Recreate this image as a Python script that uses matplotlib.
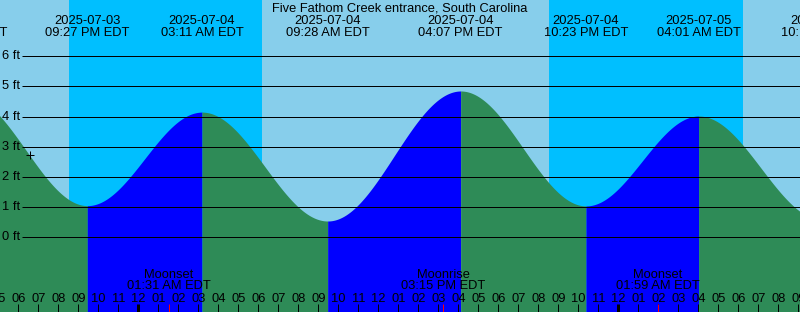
import numpy as np
import matplotlib
matplotlib.use("Agg")
import matplotlib.pyplot as plt

# ---------------- data (hours relative to 2025-07-04 00:00 EDT) ----------------
title = "Five Fathom Creek entrance, South Carolina"
tide_hours = [-8.667, -2.55, 3.183, 9.467, 16.117, 22.383, 28.017, 34.25]
tide_heights = [4.71, 1.05, 4.15, 0.54, 4.85, 1.04, 4.02, 0.57]
tide_dates = ["2025-07-03", "2025-07-03", "2025-07-04", "2025-07-04",
              "2025-07-04", "2025-07-04", "2025-07-05", "2025-07-05"]
tide_times = ["03:20 PM EDT", "09:27 PM EDT", "03:11 AM EDT", "09:28 AM EDT",
              "04:07 PM EDT", "10:23 PM EDT", "04:01 AM EDT", "10:15 AM EDT"]
night_start = [-3.465, 20.535]
night_end = [6.2, 30.22]
moon_hours = [1.517, 15.25, 25.983]
moon_events = ["Moonset", "Moonrise", "Moonset"]
moon_times = ["01:31 AM EDT", "03:15 PM EDT", "01:59 AM EDT"]
level_ticks = [0, 1, 2, 3, 4, 5, 6]
level_labels = ["0 ft", "1 ft", "2 ft", "3 ft", "4 ft", "5 ft", "6 ft"]
hour_ticks = list(range(-7, 34))
now_hour = -5.415
now_height = 2.73
x_range = (-6.915, 33.085)
y_range = (-2.476, 7.866)

# ---------------- style ----------------
DAY = "#87CEEB"
NIGHT = "#00BFFF"
FLOOD = "#0000FF"
EBB = "#2E8B57"
W, H = 800, 312
FONT = dict(family=["Liberation Sans", "DejaVu Sans"], size=9.3, color="black")
px = 0.72  # one pixel in points

fig = plt.figure(figsize=(W / 100, H / 100), dpi=100)
ax = fig.add_axes([0, 0, 1, 1])
ax.set_xlim(*x_range)
ax.set_ylim(*y_range)
ax.set_facecolor(DAY)
ax.set_xticks([])
ax.set_yticks([])
for s in ax.spines.values():
    s.set_visible(False)

def yf(pix):
    return 1 - pix / H

xt = ax.get_xaxis_transform()   # x data, y axes fraction
yt = ax.get_yaxis_transform()   # x axes fraction, y data

# night bands
for a, b in zip(night_start, night_end):
    ax.axvspan(a, b, color=NIGHT, lw=0, zorder=0)

# tide curve, filled per segment (rising = flood blue, falling = ebb green)
for i in range(len(tide_hours) - 1):
    t0, t1 = tide_hours[i], tide_hours[i + 1]
    h0, h1 = tide_heights[i], tide_heights[i + 1]
    t = np.linspace(t0, t1, 200)
    f = (t - t0) / (t1 - t0)
    h = h0 + (h1 - h0) * (1 - np.cos(np.pi * f)) / 2
    ax.fill_between(t, h, y_range[0], color=FLOOD if h1 > h0 else EBB,
                    lw=0, zorder=1)

# level lines and labels
ax.hlines(level_ticks, 21.7 / W, 1, transform=yt, color="black", lw=px, zorder=2)
for lv, lab in zip(level_ticks, level_labels):
    ax.text(2 / W, lv, lab, transform=yt, ha="left", va="center", **FONT, zorder=3)

# current-time cross
ax.plot([now_hour], [now_height], marker="+", ms=8 * px, mew=px, color="black", zorder=3)

# title and tide extreme labels
ax.text(0.5, yf(11.7), title, transform=ax.transAxes, ha="center", va="baseline", **FONT)
for th, d, tm in zip(tide_hours, tide_dates, tide_times):
    ax.text(th, yf(24), d, transform=xt, ha="center", va="baseline", **FONT, clip_on=True)
    ax.text(th, yf(35.7), tm, transform=xt, ha="center", va="baseline", **FONT, clip_on=True)

# moon events
for mh, ev, mt in zip(moon_hours, moon_events, moon_times):
    ax.text(mh, yf(277.7), ev, transform=xt, ha="center", va="baseline", **FONT)
    ax.text(mh, yf(289.3), mt, transform=xt, ha="center", va="baseline", **FONT)

# hour ticks and labels
for hr in hour_ticks:
    lab = "%02d" % ((hr % 12) or 12)
    ax.text(hr, yf(302.3), lab, transform=xt, ha="center", va="baseline", **FONT, clip_on=True)
    lw = 3 * px if hr % 24 == 0 else px
    ax.vlines(hr, 0, yf(304), transform=xt, color="black", lw=lw, zorder=3)
ax.vlines(moon_hours, 0, yf(304), transform=xt, color="red", lw=px, zorder=4)

fig.savefig("out.png", dpi=100)
